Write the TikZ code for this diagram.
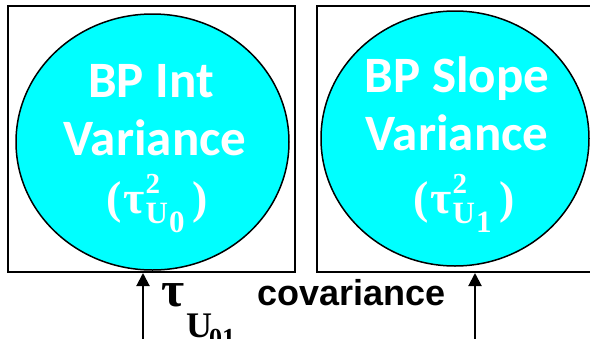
\documentclass[tikz,border=0pt]{standalone}
\usepackage{fontspec}
\setmainfont{Carlito}
\newfontfamily\arialfont{Liberation Sans}
\newfontfamily\serifbold{Liberation Serif}
\usetikzlibrary{shapes.geometric,arrows.meta}
\definecolor{cyanfill}{RGB}{0,255,255}
\newcommand{\fsz}[1]{\fontsize{#1}{#1}\selectfont}
\newcommand{\tauform}[1]{{\serifbold\bfseries\fsz{46}(\kern2pt τ\kern1pt\rlap{\raisebox{20pt}{\fsz{29}2}}\raisebox{-10pt}{\fsz{31}U\kern1pt\raisebox{-9pt}{#1}}\kern8pt)}}
\tikzset{
  framebox/.style={draw=black, line width=2pt, fill=white, rectangle, inner sep=0pt},
  varcircle/.style={draw=black, line width=1.5pt, fill=cyanfill, ellipse, inner sep=0pt},
  circtext/.style={text=white, font=\fsz{51}\bfseries, inner sep=0pt},
  covarrow/.style={line width=2pt, -{Triangle[width=13pt,length=13pt]}},
  labeltext/.style={inner sep=0pt, anchor=base west}
}
\begin{document}
\begin{tikzpicture}[x=1pt, y=-1pt]
\clip (0,0) rectangle (590,338);
\fill[white] (0,0) rectangle (590,338);
% boxes
\node[framebox, minimum width=287pt, minimum height=266pt] (boxL) at (151.5,139) {};
\node[framebox, minimum width=290pt, minimum height=266pt] (boxR) at (462,139) {};
% circles
\node[varcircle, minimum width=273pt, minimum height=256pt] (cL) at (152.5,142) {};
\node[varcircle, minimum width=268pt, minimum height=255pt] (cR) at (455,138.5) {};
% circle texts
\node[circtext, anchor=base] (tL1) at (151,97) {BP Int};
\node[circtext, anchor=base] (tL2) at (155,155) {Variance};
\node[circtext, anchor=base west] (tL3) at (106,213) {\tauform{0}};
\node[circtext, anchor=base] (tR1) at (457,92) {BP Slope};
\node[circtext, anchor=base] (tR2) at (457,150) {Variance};
\node[circtext, anchor=base west] (tR3) at (413,213) {\tauform{1}};
% arrows
\coordinate (aL) at (143,345);
\coordinate (aR) at (475,345);
\draw[covarrow] (aL) -- (boxL.south -| aL);
\draw[covarrow] (aR) -- (boxR.south -| aR);
% labels
\node[labeltext, font=\serifbold\bfseries\fsz{50}] (tau) at (161,306) {τ};
\node[labeltext, font=\serifbold\bfseries\fsz{36}] (subU) at (186,337) {U};
\node[labeltext, font=\serifbold\bfseries\fsz{26}] (sub01) at (209,346) {01};
\node[labeltext, font=\arialfont\bfseries\fsz{36}] (cov) at (257,305) {covariance};
\end{tikzpicture}
\end{document}
